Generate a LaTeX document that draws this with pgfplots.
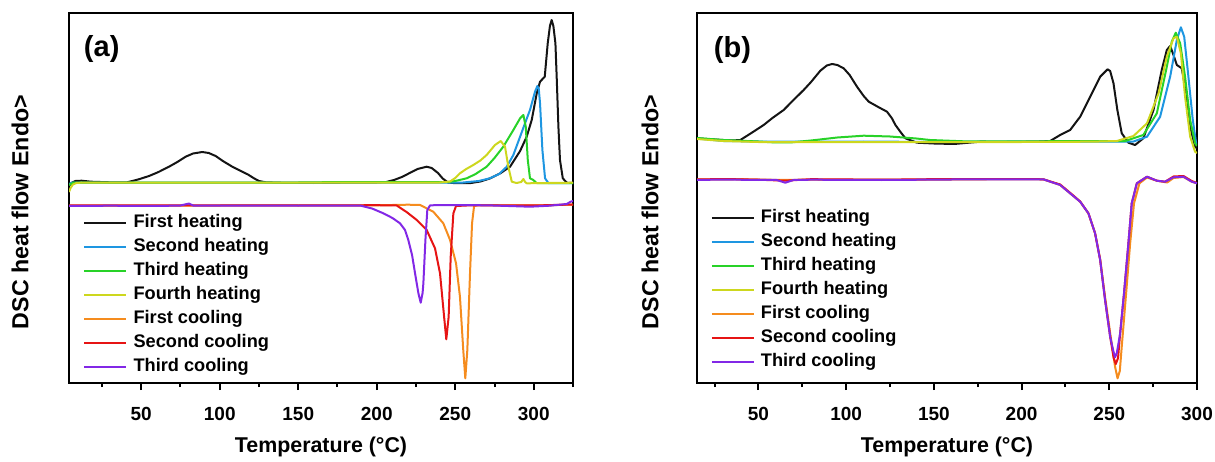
\documentclass[border=0pt]{standalone}
\usepackage{fontspec}
\setmainfont{Liberation Sans}
\usepackage{pgfplots}
\pgfplotsset{compat=1.18}
\definecolor{cblack}{RGB}{20,20,20}
\definecolor{cblue}{RGB}{30,150,225}
\definecolor{cgreen}{RGB}{40,210,40}
\definecolor{cyellow}{RGB}{205,215,30}
\definecolor{corange}{RGB}{245,140,30}
\definecolor{cred}{RGB}{230,20,20}
\definecolor{cpurple}{RGB}{130,40,230}
\pgfplotsset{
 dsc/.style={
  scale only axis, height=185pt, ymin=0, ymax=370,
  axis line style={line width=1pt},
  ytick=\empty, xtick pos=bottom, tick align=outside,
  major tick length=3.5pt, minor tick length=2pt,
  tick style={line width=1pt, black},
  xtick={50,100,...,300},
  /pgf/number format/assume math mode=true,
  xticklabel style={font=\fontsize{9.5}{11}\selectfont\bfseries, anchor=base, yshift=-15.25pt},
  every axis x label/.style={at={(axis description cs:0.5,-0.1865)}, anchor=base, font=\fontsize{10.7}{12}\selectfont\bfseries},
  xlabel={Temperature (°C)},
  ylabel={DSC heat flow Endo>},
  no markers,
  every axis plot/.append style={line width=1pt, line join=round},
  legend style={draw=none, fill=none, inner sep=0pt, outer sep=0pt, anchor=north west,
    font=\fontsize{9.1}{11}\selectfont\bfseries,
    nodes={inner sep=0pt, text height=6.6pt, text depth=1.9pt},
    row sep=3.5pt, /tikz/every odd column/.append style={column sep=3pt}},
  legend cell align=left,
  legend image code/.code={\draw[#1, line width=1.1pt] (0pt,0pt) -- (21pt,0pt);},
 }
}
\begin{document}
\begin{tikzpicture}
\path[use as bounding box] (0,0) rectangle (607.5pt,230.5pt);
\begin{axis}[dsc, at={(34.5pt,39pt)}, anchor=south west, width=252pt,
  xmin=4, xmax=325, minor xtick={25,75,...,325},
  every axis y label/.style={at={(axis description cs:-0.0972,0.462)}, anchor=center, rotate=90, font=\fontsize{11.6}{13}\selectfont\bfseries},
  legend style={at={(axis description cs:0.0284,0.4554)}},
  legend entries={First heating,Second heating,Third heating,Fourth heating,First cooling,Second cooling,Third cooling}]
\addplot[cblack] coordinates {(4,197) (5.5,200) (8,202) (12,202.3) (18,201.3) (30,200.7) (41,200.7) (48,203.5) (55,207) (61,211) (67.7,216.3) (73,221) (78.3,226.3) (83,229.5) (88.9,231) (93,230) (97.4,227) (102,222) (108,216.3) (114.4,211.3) (118,208.5) (121.8,204.7) (125,202) (129.3,200.7) (140,200.2) (160,200) (180,200.3) (200,200.5) (206,201) (211,203) (216,206) (221,210) (226,214) (231.8,216.3) (235,215) (239,210) (242,204.5) (245.4,200.5) (250,199.8) (260,200) (266,201.5) (272,204.5) (278.5,209.5) (284.9,216.3) (291.3,232) (295.5,246.3) (298.7,263) (301.9,289.7) (304,301.3) (307,306.3) (308.9,339.7) (310.3,357) (311.4,363) (312.5,357) (313.8,339.7) (314.6,306.3) (315.7,256.3) (316.7,223) (318.5,204.7) (321,200.3) (325,200)};
\addplot[cblue] coordinates {(4,199) (6,200.5) (20,200.5) (100,200.5) (200,200.5) (240,200.4) (255,200.5) (265,202) (272,204.7) (278,209) (282.8,216.3) (287,228) (291.3,246.3) (294.5,260) (297.6,273) (300.8,291.3) (302.3,297) (303.2,294) (304,279.7) (305.5,233) (307.2,204.7) (309.3,200) (315,200) (325,200)};
\addplot[cgreen] coordinates {(4,198) (7,200.5) (150,200.5) (180,201) (200,201) (230,200.8) (244.6,200.8) (250,202) (257.3,204.7) (263,209) (270,216.3) (275,225) (280.6,236.3) (287,253) (291.3,264.7) (293.4,268) (294.9,256.3) (296.2,223) (297.6,204.7) (299.7,203) (301.8,200) (310,200) (325,200)};
\addplot[cyellow] coordinates {(4,191) (5,195) (6.5,198.5) (9,200.2) (20,200.5) (100,200.5) (200,200.5) (240,200.5) (246.7,201.5) (250,205) (253,209.7) (257,214) (261.5,218) (266,222.5) (270,228) (275.3,238) (279,242) (281.7,236.3) (283.8,216.3) (286,201.3) (289,200) (292,201) (293.4,204) (294.5,201) (295.5,199.7) (310,200) (325,200.3)};
\addplot[corange] coordinates {(4,177.5) (100,177.5) (200,177.7) (220,178.3) (227.6,178) (232,174.5) (236,171.3) (242.4,159.7) (246.7,143) (250.5,119.7) (253,86.3) (255.1,33) (256.4,4.7) (257.7,33) (259.4,109.7) (260.7,159.7) (262,177) (265,178) (290,177.5) (310,177.7) (325,178.5)};
\addplot[cred] coordinates {(4,177.5) (80,177.7) (150,177.5) (200,177.8) (212.7,177.5) (219,171) (225.5,163) (231.8,153) (237.1,134.7) (240.3,109.7) (242.9,66.3) (244.3,43.7) (245.8,66.3) (247.1,126.3) (248.8,169.7) (250.5,177) (260,177.7) (300,177.5) (325,178.5)};
\addplot[cpurple] coordinates {(4,177) (30,177.3) (60,177) (75,177.5) (80.4,179.5) (83,177.5) (120,177.3) (160,177.5) (189.3,177.5) (197,174.5) (204.2,169.7) (210,165) (214.8,159.7) (218,153) (220.1,143) (222.5,128) (224.4,109.7) (226.5,90) (228,80.3) (229.2,90) (229.7,99.7) (231,143) (232.2,173) (234,177.7) (246,178) (270,177.7) (297.6,176.3) (310,177.3) (321,179) (323.5,181.3) (325,182)};
\node[font=\fontsize{14.5}{16}\selectfont\bfseries, anchor=center] at (rel axis cs:0.0649,0.9027) {(a)};
\end{axis}
\begin{axis}[dsc, at={(348.5pt,39pt)}, anchor=south west, width=250pt,
  xmin=15, xmax=300, minor xtick={25,75,...,275},
  every axis y label/.style={at={(axis description cs:-0.094,0.462)}, anchor=center, rotate=90, font=\fontsize{11.6}{13}\selectfont\bfseries},
  legend style={at={(axis description cs:0.0274,0.47)}},
  legend entries={First heating,Second heating,Third heating,Fourth heating,First cooling,Second cooling,Third cooling}]
\addplot[cblack] coordinates {(15,244.7) (25,243.5) (35,242.5) (39.7,243) (46,250) (53,258) (58,265) (64.4,273) (70,283) (75.8,293) (80,301) (85.3,312.3) (89,317.5) (92,319) (95,318) (98.6,314.7) (102,308) (106.2,296.3) (110,287) (112.9,281.3) (118.6,275.7) (123.3,271.3) (126,265) (128.1,258) (131,251) (133.8,244.7) (140.4,240.3) (150,239.5) (161.4,239) (176.5,241.3) (195,241) (210,241.5) (216.3,242) (222,248) (227.7,253) (233.4,266.3) (239.1,286.3) (244.8,306.3) (249,313.7) (250.5,312) (252.4,299.7) (254.6,273) (257.1,249.7) (260.9,240.3) (264.7,238) (269.4,244.7) (275.2,273) (279.9,313) (282.8,333) (284.7,337) (286.6,328) (288.5,318) (291.3,314.7) (293.2,296.3) (296.1,256.3) (298.9,236.3) (300,234.7)};
\addplot[cblue] coordinates {(15,244.5) (30,242) (50,241.5) (80,241.3) (110,241.5) (150,241) (200,241.3) (240,241.3) (263.8,241.5) (271.5,246.3) (279,266.3) (284.7,306.3) (288.5,343) (290.8,355.7) (292.7,346.3) (295.1,306.3) (297.6,263) (299.5,239.7) (300,238)};
\addplot[cgreen] coordinates {(15,245) (30,243) (50,241.5) (60,240.5) (68,240.5) (80,242.5) (95,245.5) (110,247.3) (125,246.5) (140,244.5) (147.8,243) (170,241.5) (200,241.5) (230,242) (258.8,241.8) (269.4,248) (277.1,269.7) (282.8,316.3) (285.6,341.3) (287.9,350.3) (290.4,339.7) (293.2,306.3) (296.1,263) (298.9,239.7) (300,237)};
\addplot[cyellow] coordinates {(15,244) (30,242) (50,241) (80,240.8) (110,241) (150,240.8) (200,241) (240,241.3) (254.3,242) (263.8,247) (271.5,259.7) (278.1,289.7) (282.8,326.3) (286.6,344.7) (288.5,346.3) (290.8,329.7) (293.2,286.3) (296.1,246.3) (298.9,231.3) (300,230)};
\addplot[corange] coordinates {(15,203.5) (40,203.8) (65.3,203) (80,203.5) (120,203.5) (160,203.5) (200,204) (212.4,203.7) (222,198) (229.5,187) (233.4,181.3) (238.1,169.7) (241.9,149.7) (244.8,124) (247.6,86) (250.5,50) (253.3,16.3) (254.7,4.7) (256,12) (257.1,36.3) (259.6,89.7) (261.9,139.7) (264.1,179.7) (267.2,199.7) (271.5,205.5) (277.1,202.3) (283,200.5) (286.6,205) (292.3,206) (297,201.3) (300,199.7)};
\addplot[cred] coordinates {(15,203.5) (30,204) (50,203.3) (65.3,202.3) (80,203.8) (120,203.3) (160,204) (200,204) (212.4,203.7) (222,198.5) (229.5,187.5) (233.4,181.5) (238.1,169.7) (241.9,149.7) (244.8,123) (247.6,83) (250.5,46.3) (252.5,25) (253.7,19) (255,25) (256.2,49.7) (258.4,89.7) (260.9,139.7) (262.8,179.7) (265.7,199.7) (271.5,206.3) (277.1,202.3) (281.8,201.3) (286.6,206.5) (292.3,207) (297,202) (300,200)};
\addplot[cpurple] coordinates {(15,203) (30,203.5) (50,203) (60,203.2) (65.3,200.3) (70,203) (80,203.3) (120,203) (160,203.5) (200,203.7) (212.4,203.7) (222,198) (229.5,187) (233.4,181.3) (238.1,169.7) (241.9,149.7) (244.8,123) (247.6,83) (250.5,46.3) (252.3,32) (253.3,25.7) (254.3,30) (256.2,49.7) (258.4,89.7) (260.9,139.7) (262.8,179.7) (265.7,199.7) (271.5,206.3) (277.1,202.3) (281.8,201.3) (286.6,205.7) (292.3,206.3) (297,201.3) (300,199.7)};
\node[font=\fontsize{14.5}{16}\selectfont\bfseries, anchor=center] at (rel axis cs:0.071,0.9) {(b)};
\end{axis}
\end{tikzpicture}
\end{document}
